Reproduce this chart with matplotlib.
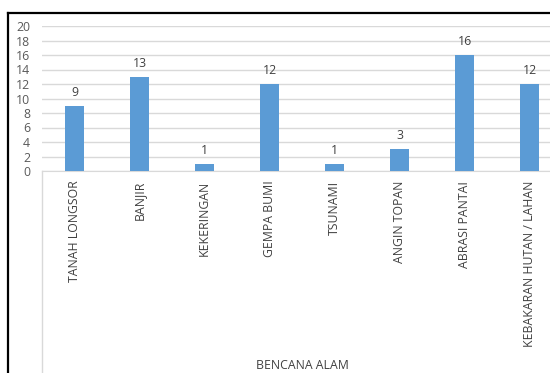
import numpy as np
import matplotlib
matplotlib.use("Agg")
from matplotlib import pyplot as plt
from matplotlib.lines import Line2D

kategori = ["TANAH LONGSOR", "BANJIR", "KEKERINGAN", "GEMPA BUMI",
            "TSUNAMI", "ANGIN TOPAN", "ABRASI PANTAI", "KEBAKARAN HUTAN / LAHAN"]
jumlah = [9, 13, 1, 12, 1, 3, 16, 12]
y_ticks = [0, 2, 4, 6, 8, 10, 12, 14, 16, 18, 20]

W, H = 550, 373
plt.rcParams['font.family'] = ['Open Sans', 'DejaVu Sans']
fig = plt.figure(figsize=(W / 100, H / 100), dpi=100)

# axes in pixel positions (right edge runs past the image, like the cropped original)
x0, x1 = 42, 562
y_top, y_bot = 26, 171
ax = fig.add_axes([x0 / W, 1 - y_bot / H, (x1 - x0) / W, (y_bot - y_top) / H])

pos = np.arange(len(kategori))
ax.bar(pos, jumlah, width=0.3, color="#5b9bd5", zorder=3)
for p, v in zip(pos, jumlah):
    ax.text(p, v + 1.35, str(v), ha="center", va="baseline", fontsize=8.8, color="#404040")

ax.set_xlim(-0.5, len(kategori) - 0.5)
ax.set_ylim(0, 20)
ax.set_yticks(y_ticks)
ax.set_yticklabels([str(t) for t in y_ticks], fontsize=8.8, color="#595959")
ax.set_xticks(pos)
ax.set_xticklabels(kategori, rotation=90, fontsize=8.8, color="#404040")
ax.tick_params(axis="both", length=0)
ax.tick_params(axis="y", pad=8.5)
ax.tick_params(axis="x", pad=7)
ax.grid(axis="y", color="#d9d9d9", linewidth=1, zorder=0)
for s in ["top", "right", "left"]:
    ax.spines[s].set_visible(False)
ax.spines["bottom"].set_color("#d9d9d9")
ax.set_xlabel("BENCANA ALAM", fontsize=8.8, color="#404040")
ax.xaxis.set_label_coords(0.5, -(359 - y_bot) / (y_bot - y_top))

# light line at the left of the category axis
fig.add_artist(Line2D([x0 / W, x0 / W], [0, 1 - y_bot / H], color="#d9d9d9", linewidth=1))
# black outer frame (top and left)
fig.add_artist(Line2D([8 / W, 1], [1 - 13 / H, 1 - 13 / H], color="black", linewidth=1.6))
fig.add_artist(Line2D([8 / W, 8 / W], [0, 1 - 13 / H], color="black", linewidth=1.6))

plt.savefig("out.png", dpi=100)
